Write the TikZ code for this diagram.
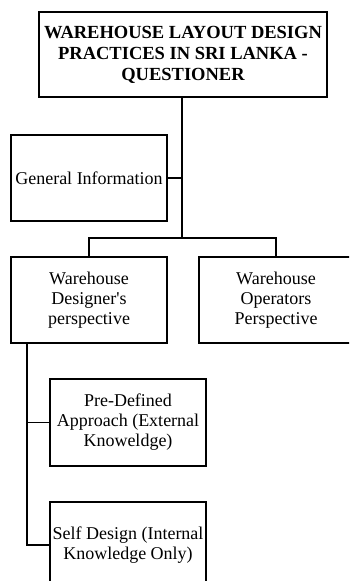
\documentclass[tikz,border=0pt]{standalone}
\usepackage{fontspec}
\setmainfont{Liberation Serif}
\begin{document}
\begin{tikzpicture}[x=1pt,y=-1pt,
  box/.style={draw, line width=1.3pt, inner sep=0pt, align=center, font=\fontsize{18}{20}\selectfont},
  conn/.style={line width=1.3pt}]
\useasboundingbox (0,0) rectangle (349,581);
\begin{scope}
\clip (0,0) rectangle (349,581);
\node[box, minimum width=288, minimum height=85, font=\fontsize{18.5}{21}\selectfont\bfseries] (top) at (183,54.5)
  {WAREHOUSE LAYOUT DESIGN\\PRACTICES IN SRI LANKA -\\QUESTIONER};
\node[box, minimum width=156, minimum height=86] (gen) at (89,178) {General Information};
\node[box, minimum width=156, minimum height=86] (des) at (89,300) {Warehouse\\Designer\textquotesingle s\\perspective};
\node[box, minimum width=154, minimum height=86] (ops) at (276,300) {Warehouse\\Operators\\Perspective};
\node[box, minimum width=156, minimum height=87] (pre) at (128,422.5) {Pre-Defined\\Approach (External\\Knoweldge)};
\node[box, minimum width=156, minimum height=86] (self) at (128,545) {Self Design (Internal\\Knowledge Only)};
\coordinate (trunk) at (182,238);
\coordinate (genj) at (182,178);
\coordinate (hl) at (89,238);
\coordinate (hr) at (276,238);
\coordinate (dtop) at (27,343);
\coordinate (dpre) at (27,422.5);
\coordinate (dself) at (27,545);
\draw[conn] (top.south -| trunk) -- (trunk);
\draw[conn] (gen.east) -- (genj);
\draw[conn] (des.north) -- (hl) -- (hr) -- (ops.north);
\draw[conn] (dtop) -- (dself) -- (self.west);
\draw[conn] (dpre) -- (pre.west);
\end{scope}
\end{tikzpicture}
\end{document}
